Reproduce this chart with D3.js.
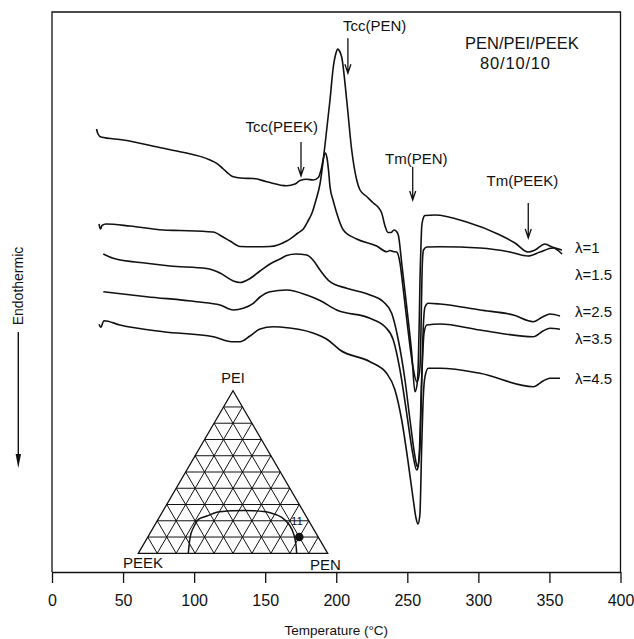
<!DOCTYPE html>
<html>
<head>
<meta charset="utf-8">
<script src="https://cdn.jsdelivr.net/npm/d3@7"></script>
<style>
  html, body { margin: 0; padding: 0; background: #fff; }
  svg { display: block; font-family: "Liberation Sans", Arial, Helvetica, sans-serif; }
</style>
</head>
<body>
<svg id="chart" width="634" height="639"></svg>
<script>
// ---- Data: DSC heating scans of PEN/PEI/PEEK 80/10/10 (temperature °C, heat flow a.u.) ----
const temperatureTicks = [0, 50, 100, 150, 200, 250, 300, 350, 400];
const seriesLabels = ["λ=1", "λ=1.5", "λ=2.5", "λ=3.5", "λ=4.5"];

const scanLambda1 = [
  [31.31,44.3],[32.37,43.8],[34.48,43.5],[50.17,43.2],[78.31,42.37],[90.06,42.03],[111.17,41.2],
  [115.88,40.87],[120.53,40.3],[127.56,39.53],[134.6,39.37],[141.64,39.35],[151.06,39.03],
  [165.14,38.63],[170.97,38.8],[174.49,39.15],[179.21,39.27],[183.85,39.2],[187.37,39.45],
  [189.62,40.4],[191.03,41.4],[192.29,41.9],[193.49,41.4],[194.55,40.2],[195.6,38.53],
  [197.92,37.1],[200.31,35.9],[204.96,34.2],[214.39,33.3],[228.46,32.6],[235.49,32.03],
  [237.82,32.15],[239.93,32.05],[242.53,32.0],[244.85,30.9],[246.96,28.5],[250.48,24.2],
  [254.0,20.5],[256.6,19.03],[257.87,19.4],[258.92,20.5],[259.63,24.2],[260.12,28.2],
  [260.68,31.2],[261.39,32.2],[263.64,32.5],[273.0,32.53],[301.14,32.4],[322.25,32.0],
  [334.91,31.6],[343.36,32.0],[352.5,32.4],[358.84,31.8]
];
const scanLambda15 = [
  [33.07,34.8],[34.12,34.3],[35.18,34.65],[37.99,34.8],[54.88,34.6],[78.1,34.2],[90.06,34.15],
  [113.28,34.0],[120.32,33.5],[125.24,33.1],[132.28,32.55],[142.83,32.52],[153.38,32.55],
  [165.14,33.1],[173.09,33.9],[176.81,34.3],[180.12,35.1],[182.94,35.9],[185.75,37.2],
  [188.56,38.8],[192.08,42.7],[195.6,47.2],[197.92,50.5],[199.82,51.9],[201.02,52.3],
  [202.29,52.1],[203.83,51.5],[207.35,47.2],[210.87,42.2],[214.39,39.2],[216.71,38.2],
  [221.42,37.55],[226.07,36.9],[229.37,36.5],[231.98,35.9],[234.3,34.6],[236.41,33.95],
  [238.52,33.95],[240.63,34.2],[242.04,34.1],[243.66,33.7],[246.05,30.9],[249.57,26.53],
  [253.09,21.9],[255.41,18.03],[256.81,18.7],[257.73,20.9],[258.43,25.2],[258.92,29.2],
  [259.63,32.7],[260.12,34.5],[261.04,35.3],[262.44,35.65],[269.48,35.7],[291.78,35.0],
  [315.21,33.7],[325.77,32.9],[334.91,32.0],[339.84,32.2],[346.87,32.8],[351.8,32.5],[358.84,32.2]
];
const scanLambda25 = [
  [36.1,31.8],[43.13,31.37],[66.63,30.87],[83.02,30.6],[108.85,30.35],[118.2,29.9],[127.56,29.1],
  [132.28,28.95],[139.31,29.35],[146.35,30.1],[153.38,30.8],[160.42,31.3],[165.14,31.65],
  [171.68,31.8],[179.21,31.7],[183.64,31.2],[188.56,30.2],[195.6,29.03],[207.35,28.37],
  [223.74,27.7],[233.1,27.03],[239.01,25.87],[243.66,23.2],[248.37,19.2],[251.89,15.2],
  [255.41,11.53],[257.02,10.53],[258.22,11.2],[258.92,12.53],[260.12,19.2],[261.25,24.53],
  [262.44,26.5],[264.77,26.87],[273.0,26.8],[301.14,26.2],[324.57,25.7],[338.64,25.03],
  [345.47,25.53],[350.39,25.8],[357.43,25.6]
];
const scanLambda35 = [
  [36.1,28.03],[66.63,27.53],[101.81,27.03],[118.2,26.7],[127.56,26.2],[134.6,26.37],
  [141.64,26.87],[146.35,27.5],[153.38,28.03],[165.14,28.2],[179.21,27.7],[188.56,27.15],
  [200.31,26.2],[223.74,25.37],[234.3,24.53],[240.14,23.2],[244.85,20.2],[249.57,15.87],
  [253.79,11.87],[256.6,10.2],[257.73,10.6],[258.43,11.87],[260.12,19.2],[261.74,23.87],
  [263.64,24.7],[273.0,24.8],[301.14,24.2],[338.64,23.53],[345.47,24.1],[350.39,24.37],[357.43,24.27]
];
const scanLambda45 = [
  [33.07,24.77],[34.26,24.47],[36.59,25.13],[47.84,24.7],[78.31,24.03],[113.49,23.53],
  [126.44,23.03],[132.28,23.03],[139.31,23.6],[146.35,24.3],[155.71,24.53],[160.42,24.5],
  [183.64,23.9],[194.19,23.2],[202.64,22.2],[223.74,21.03],[235.49,19.87],[241.33,18.2],
  [246.05,15.2],[250.69,10.87],[254.21,7.2],[256.11,5.4],[257.52,4.8],[258.57,5.4],
  [258.92,5.9],[260.12,12.53],[261.25,17.53],[262.44,19.53],[264.77,20.37],[273.0,20.37],
  [301.14,19.87],[338.64,18.53],[345.47,19.1],[350.39,19.37],[357.43,19.37]
];
const scans = [scanLambda1, scanLambda15, scanLambda25, scanLambda35, scanLambda45];

// Transition temperatures marked with arrows (°C)
const transitionNames = ["Tcc(PEEK)", "Tcc(PEN)", "Tm(PEN)", "Tm(PEEK)"];
const transitionTemps = [175.2, 208.2, 253.8, 335.1];

// Ternary inset: blend composition (PEN, PEI) fractions, PEEK = remainder
const blendComposition = [0.8, 0.1];
const binodalCurve = [
  [0.264,0],[0.2386,0.0615],[0.217,0.123],[0.211,0.174],[0.213,0.209],[0.247,0.229],
  [0.288,0.252],[0.371,0.262],[0.477,0.262],[0.571,0.25],[0.647,0.221],[0.711,0.174],
  [0.766,0.1125],[0.807,0.051],[0.836,0]
];
const gridDivisions = 10;

// ---- Layout ----
const svg = d3.select("#chart");
const x = d3.scaleLinear().domain([0, 400]).range([52, 620.5]);
const y = d3.scaleLinear().domain([0, 56]).range([572, 12]);
const ink = "#111";

// Frame (left, top, right) and bottom temperature axis
svg.append("path")
  .attr("d", `M${x(0)},${y(0)}V${y(56)}H${x(400)}V${y(0)}`)
  .attr("fill", "none").attr("stroke", ink).attr("stroke-width", 1.3);

const axis = svg.append("g")
  .attr("transform", `translate(0,${y(0)})`)
  .call(d3.axisBottom(x).tickValues(temperatureTicks).tickSize(11).tickSizeOuter(0).tickPadding(12));
axis.select(".domain").attr("stroke", ink).attr("stroke-width", 1.3);
axis.selectAll(".tick line").attr("stroke", ink).attr("stroke-width", 1.3);
axis.selectAll(".tick text")
  .attr("fill", ink).style("font-size", "16px")
  .style("font-family", "'Liberation Sans', Arial, sans-serif");

svg.append("text")
  .attr("x", (x(0) + x(400)) / 2).attr("y", 635)
  .attr("text-anchor", "middle").attr("fill", ink).style("font-size", "13.5px")
  .text("Temperature (°C)");

// Endothermic direction label with arrow
svg.append("text")
  .attr("transform", "translate(23,286) rotate(-90)")
  .attr("text-anchor", "middle").attr("fill", ink).style("font-size", "14px")
  .text("Endothermic");
svg.append("line")
  .attr("x1", 18.3).attr("x2", 18.3).attr("y1", 332).attr("y2", 456)
  .attr("stroke", ink).attr("stroke-width", 1.4);
svg.append("path")
  .attr("d", "M18.3,468 L15.6,454 L21,454 Z").attr("fill", ink);

// DSC curves
const line = d3.line()
  .x(d => x(d[0])).y(d => y(d[1]))
  .curve(d3.curveMonotoneX);
svg.append("g").selectAll("path").data(scans).join("path")
  .attr("d", line)
  .attr("fill", "none").attr("stroke", ink).attr("stroke-width", 1.6)
  .attr("stroke-linejoin", "round");

// Series labels at the right end
const labelBaselines = [253, 280, 317, 344, 384];
svg.append("g").selectAll("text").data(seriesLabels).join("text")
  .attr("x", 575).attr("y", (d, i) => labelBaselines[i])
  .attr("fill", ink).style("font-size", "15px")
  .text(d => d);

// Transition arrows and names
const arrowTop = [43.0, 53.37, 40.53, 36.9];
const arrowTip = [39.6, 49.87, 37.2, 33.4];
const nameX = [245.5, 343, 385, 486.5];
const nameY = [132, 31, 164, 186];
transitionTemps.forEach((t, i) => {
  const ax = x(t), y1 = y(arrowTop[i]), y2 = y(arrowTip[i]);
  svg.append("path")
    .attr("d", `M${ax},${y1}V${y2}M${ax - 3},${y2 - 9}L${ax},${y2}L${ax + 3},${y2 - 9}`)
    .attr("fill", "none").attr("stroke", ink).attr("stroke-width", 1.3);
  svg.append("text")
    .attr("x", nameX[i]).attr("y", nameY[i])
    .attr("fill", ink).style("font-size", "15px")
    .text(transitionNames[i]);
});

// Blend title
svg.append("text").attr("x", 465).attr("y", 49).attr("fill", ink)
  .style("font-size", "16.5px").text("PEN/PEI/PEEK");
svg.append("text").attr("x", 480).attr("y", 69).attr("fill", ink)
  .style("font-size", "16.5px").attr("textLength", 70).text("80/10/10");

// ---- Ternary inset ----
const vPEEK = [138.3, 553.3], vPEN = [327.7, 553.3], vPEI = [233, 390.7];
const tern = (pen, pei) => {
  const peek = 1 - pen - pei;
  return [pen * vPEN[0] + pei * vPEI[0] + peek * vPEEK[0],
          pen * vPEN[1] + pei * vPEI[1] + peek * vPEEK[1]];
};
const tg = svg.append("g");
const gridLines = [];
for (let i = 1; i < gridDivisions; i++) {
  const f = i / gridDivisions;
  gridLines.push([tern(1 - f, f), tern(0, f)]);       // constant PEI
  gridLines.push([tern(f, 1 - f), tern(f, 0)]);       // constant PEN
  gridLines.push([tern(1 - f, 0), tern(0, 1 - f)]);   // constant PEEK
}
tg.selectAll("line.grid").data(gridLines).join("line")
  .attr("class", "grid")
  .attr("x1", d => d[0][0]).attr("y1", d => d[0][1])
  .attr("x2", d => d[1][0]).attr("y2", d => d[1][1])
  .attr("stroke", ink).attr("stroke-width", 1);
tg.append("path")
  .attr("d", `M${vPEEK}L${vPEN}L${vPEI}Z`)
  .attr("fill", "none").attr("stroke", ink).attr("stroke-width", 1.3);

tg.append("path")
  .datum(binodalCurve)
  .attr("d", d3.line().x(d => tern(d[0], d[1])[0]).y(d => tern(d[0], d[1])[1]).curve(d3.curveCatmullRom))
  .attr("fill", "none").attr("stroke", ink).attr("stroke-width", 1.5);

const dot = tern(blendComposition[0], blendComposition[1]);
tg.append("circle").attr("cx", dot[0]).attr("cy", dot[1]).attr("r", 4.3).attr("fill", ink);
tg.append("text").attr("x", 291).attr("y", 525).attr("fill", ink)
  .style("font-size", "11.5px").text("11");

tg.append("text").attr("x", vPEI[0]).attr("y", 383).attr("text-anchor", "middle")
  .attr("fill", ink).style("font-size", "14.5px").text("PEI");
tg.append("text").attr("x", 123).attr("y", 568)
  .attr("fill", ink).style("font-size", "15px").text("PEEK");
tg.append("text").attr("x", 310).attr("y", 570)
  .attr("fill", ink).style("font-size", "15px").text("PEN");
</script>
</body>
</html>
